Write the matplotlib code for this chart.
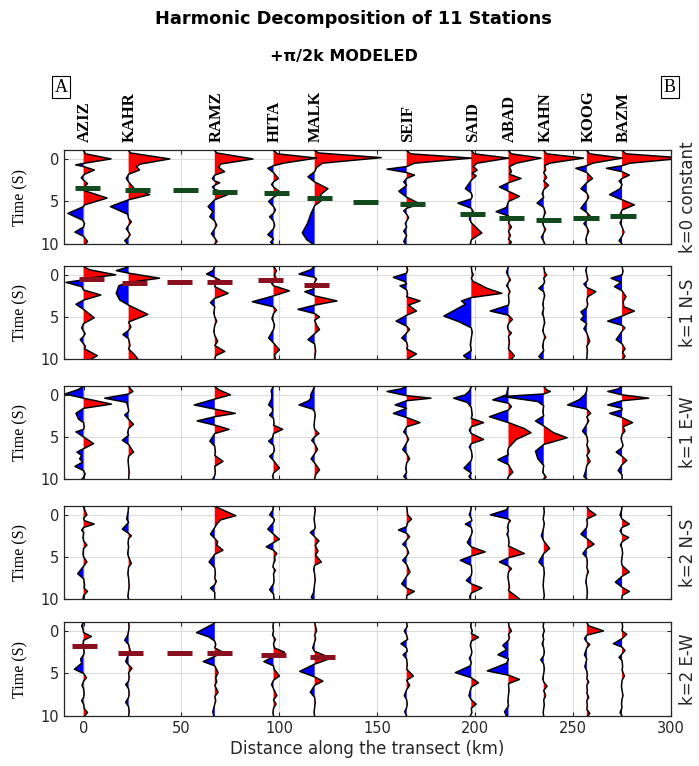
#!/usr/bin/env python3
"""
Harmonic decomposition wiggle plot (11 stations, +pi/2k modeled).
Saves out.png
"""

import numpy as np
import matplotlib.pyplot as plt
from matplotlib import transforms

# Stations along the transect (km)
stations = ["AZIZ", "KAHR", "RAMZ", "HITA", "MALK", "SEIF", "SAID", "ABAD", "KAHN", "KOOG", "BAZM"]
station_km = [0, 23, 67, 97, 118, 165, 198, 217, 235, 257, 275]

panel_labels = ["k=0 constant", "k=1 N-S", "k=1 E-W", "k=2 N-S", "k=2 E-W"]

# Each trace: (time s, amplitude offset in km) key points
k0_constant = [
    [(-1, 0), (-0.6, 1), (0, 14), (0.5, 0.5), (0.7, -4), (0.9, 0), (1.3, 5.5), (1.8, 0.5), (2.2, -1.2), (2.5, 0), (2.9, 2), (3.3, 0.3), (3.7, 0), (4.6, 12), (5.4, 0.5), (5.6, 0), (6.4, -8), (7.2, -0.5), (7.6, 0.5), (8.0, 0), (8.6, -4.4), (9.1, 0), (9.7, 2), (10, 1)],
    [(-1, 0), (-0.7, 1), (0, 21), (0.6, 6), (0.9, 4), (1.3, 5.6), (1.8, 0), (2.3, -1.2), (2.7, 0), (3.1, 1.5), (3.5, 3), (4.2, 10.7), (4.8, 0), (5.6, -9.3), (6.5, -0.5), (7.0, 0), (7.4, 1.4), (7.8, 0), (8.2, -1.2), (8.6, 0), (8.9, 0.8), (9.2, 0), (9.6, -2), (10, -0.5)],
    [(-1, 0), (-0.7, 1), (0, 19.5), (0.6, 3), (1.0, 2), (1.5, 5), (1.9, 0), (2.3, -1.3), (2.6, 0), (2.8, 2.5), (3.1, 0), (3.3, -1.2), (3.6, 0), (4.1, 7.6), (4.8, 0), (5.6, -3.4), (6.2, -1), (6.8, -2.5), (7.3, 0), (7.8, 1), (8.2, 0), (8.8, -1.7), (9.3, 0), (9.7, 1.2), (10, 0)],
    [(-1, 0), (-0.6, 2), (-0.1, 22), (0.5, 5), (0.8, 0), (1.1, -2.9), (1.6, 0), (2.3, 2.5), (2.7, 0), (3.0, -1), (3.3, 0), (4.0, 3.9), (4.5, 0), (5.0, -2.5), (5.6, 0), (6.0, 1), (6.4, 0), (6.8, -2), (7.3, 0), (7.8, 0.6), (8.2, 0), (8.9, -2.9), (9.4, 0), (9.8, -1.5), (10, -0.5)],
    [(-1, 0), (-0.7, 2), (-0.15, 34), (0.5, 4), (1.0, 1), (1.5, 0), (2.1, -3.4), (2.7, 0), (3.5, 6.8), (4.2, 3), (4.8, 4), (5.5, 0), (6.5, -2), (7.5, -3.5), (8.7, -6.3), (9.5, -4), (10, -1)],
    [(-1, 0), (-0.6, 2), (-0.1, 33), (0.5, 4), (0.9, 0), (1.2, -10), (1.6, 0), (1.9, 4), (2.3, 0), (2.7, -1.5), (3.1, 0), (3.8, -4), (4.5, 0), (5.3, 6.8), (5.8, 0), (6.1, -1.5), (6.5, 0), (6.9, 1), (7.3, 0), (7.6, -0.7), (8.0, 0), (8.5, -1.5), (9.0, 0), (9.7, -1.5), (10, -0.5)],
    [(-1, 0), (-0.6, 1.5), (-0.1, 19), (0.5, 3), (0.9, 1), (1.3, 3), (1.7, 0.5), (2.0, 2.5), (2.5, 0), (3.5, -3), (4.0, 0), (4.4, 0.5), (4.7, 0), (5.2, -6.8), (5.8, 0), (6.2, 1), (6.6, 0), (7.0, -1), (7.5, 0), (8.7, 5.4), (9.5, 0), (10, -0.5)],
    [(-1, 0), (-0.6, 1.5), (-0.1, 16.6), (0.5, 4), (0.9, 0.5), (1.5, 1.5), (1.8, 0.5), (2.3, 6.4), (2.8, 0), (3.3, -4.6), (3.8, 0), (4.4, 5.6), (5.0, 0), (5.7, -1), (6.2, -6.3), (6.7, 0), (7.1, 1), (7.5, 0), (8.0, 1.5), (8.5, 0), (9.0, 1), (9.4, 0), (9.8, 1.5), (10, 0.5)],
    [(-1, 0), (-0.6, 1.5), (-0.1, 20.3), (0.5, 3), (0.8, 0.5), (1.3, 1), (1.6, 0), (2.2, 1.5), (2.6, 0), (3.1, 2.5), (3.6, 0), (4.1, -0.8), (4.5, 0), (5.2, -3.4), (5.7, 0), (6.3, 0.8), (6.8, 0), (7.4, -0.8), (7.9, 0), (8.3, 1), (8.7, 0), (9.2, -1.2), (9.7, 0), (10, 0.5)],
    [(-1, 0), (-0.6, 1.5), (-0.1, 18), (0.5, 3), (0.8, 0), (1.1, -5.6), (1.6, 0), (2.3, 2.9), (2.8, 0), (3.5, -3), (4.0, 0), (4.5, 1), (4.9, 0), (5.8, -3), (6.3, 0), (6.8, 2), (7.2, 0), (7.6, -1.5), (8.0, 0), (8.5, 1), (9.0, 0), (9.5, -0.5), (10, 0)],
    [(-1, 0), (-0.6, 2), (-0.1, 32), (0.5, 4), (0.8, 0), (1.1, -8), (1.5, 0), (1.9, 3.7), (2.3, 0), (2.6, -1.5), (3.0, 0), (3.5, -1), (4.2, -6.4), (4.8, 0), (5.4, 6.3), (6.0, 0), (6.5, -1), (7.0, 0), (7.5, -1), (8.0, 0), (8.6, 1), (9.1, 0), (9.6, -1.5), (10, 0)],
]

k1_ns = [
    [(-1, 0), (-0.6, 3), (0, 16.4), (0.4, 2), (0.6, 0), (0.9, -9), (1.4, -1), (1.8, 0), (2.4, 8.8), (3.0, 0), (3.5, -3.9), (4.1, 0), (5.1, 5.4), (5.8, 0), (6.3, -1), (6.7, 0), (7.0, 0.8), (7.3, 0), (7.7, -1.7), (8.2, 0), (8.5, 1.0), (8.8, 0.5), (9.6, 7), (10, 4)],
    [(-1, 0), (-0.8, -2), (-0.5, -6.3), (-0.2, 0), (0.4, 15.8), (0.9, 0), (1.3, -5), (2.2, -6.3), (3.0, -4.5), (3.6, 0), (4.7, 9.8), (5.6, 0), (6.2, 1.2), (6.6, 0), (7.1, -2.9), (7.6, 0), (8.4, 0.7), (8.8, 0), (9.5, 3), (10, 4.7)],
    [(-1, 0), (-0.5, -1), (-0.1, -4.2), (0.3, 0), (0.6, 2.5), (1.0, 0.5), (1.4, 0), (2.2, 6.8), (2.8, 0), (3.3, -2.2), (3.8, 0), (4.5, -0.5), (5.0, 0), (5.5, 1), (6.0, 0), (6.7, -0.5), (7.2, 0), (7.9, 1.5), (8.4, 0), (9.1, 5.1), (9.6, 0.5), (10, 0)],
    [(-1, 0), (-0.5, 1.5), (0, 0.5), (0.3, 1.2), (0.7, 0), (1.0, -1), (1.3, 0), (1.9, 8.1), (2.5, 0), (3.2, -10.8), (3.8, 0), (4.2, 1.5), (4.6, 0), (5.2, -0.8), (5.6, 0), (6.0, 0.5), (6.5, 0), (7.5, -2.5), (8.1, 0), (8.9, 3), (9.5, 0.5), (10, 1)],
    [(-1, 0), (-0.6, -2), (-0.1, -8), (0.3, 0), (0.5, 1), (0.9, 0), (1.4, -1), (1.7, -0.5), (2.0, -5), (2.5, 0), (3.1, 11.4), (3.6, 0), (4.1, -8.5), (4.6, 0), (5.0, 2.5), (5.4, 0), (6.0, 1), (6.5, 2.5), (7.0, 0), (7.7, -3.4), (8.2, 0), (9.0, 0.5), (10, 0)],
    [(-1, 0), (-0.6, 0.5), (-0.2, 0), (0.3, -6.8), (0.8, -1), (1.1, 0), (1.3, -3.4), (1.8, 0), (2.3, 0.5), (2.6, 0), (3.1, 6.8), (3.6, 1), (4.3, 5), (4.8, 0), (5.5, -5.4), (6.1, 0), (6.5, 1.5), (6.9, 0), (7.5, -2.5), (8.0, 0), (8.5, 0.5), (8.8, 0), (9.4, 5), (10, 0.5)],
    [(-1, 0), (-0.4, 0.3), (0, 1), (0.4, 0), (0.8, 1), (1.0, 3), (1.6, 8), (2.2, 15.6), (2.7, 0), (3.1, -5), (3.5, -3), (4.9, -14), (5.6, -6), (6.3, 0), (6.8, 0.5), (7.5, 0), (8.3, -0.5), (9.0, 0), (9.6, -3.9), (10, -2)],
    [(-1, 0), (-0.3, -1), (0.2, 0), (0.6, 1), (0.9, 0), (1.3, -1), (1.6, 0), (2.0, 0.8), (2.4, 0), (3.2, 0.3), (3.6, 0), (4.3, -9.3), (4.8, 0), (5.3, 2), (5.8, 0), (6.2, -0.5), (6.6, 0), (6.9, 1.5), (7.3, 0), (8.0, 0.5), (8.8, 0), (9.6, 3), (10, 1.5)],
    [(-1, 0), (-0.3, 0.5), (0, 1.5), (0.4, 0), (0.8, 0.5), (1.1, 0), (1.6, -2.5), (2.0, 0), (2.5, 0.5), (2.9, 0), (3.5, -0.5), (4.0, 0), (4.6, -0.8), (5.0, 0), (5.7, 0.5), (6.1, 0), (6.6, -0.5), (7.0, 0), (7.4, 1), (7.8, 0), (8.5, -0.6), (9.0, 0), (9.7, -2.5), (10, -1)],
    [(-1, 0), (-0.5, -0.5), (0, 0), (0.6, 0.5), (0.8, 0), (1.1, -1.5), (1.5, 0), (2.0, 4.6), (2.6, 0.5), (3.0, 0), (3.5, 0.5), (3.9, 0), (4.4, -3), (4.9, -1.5), (5.3, -3), (5.8, 0), (6.4, -1.5), (6.9, 0), (7.9, 1.5), (8.5, 0), (9.0, 0.3), (10, 0)],
    [(-1, 0), (-0.4, 0.5), (0, 0), (0.4, -5.6), (0.9, -0.5), (1.4, -3.9), (1.9, 0), (2.6, 2), (3.2, 0.5), (3.8, 1), (4.3, 6.3), (4.9, 0), (5.5, -7.3), (6.0, 0), (6.3, 1.5), (6.7, 0), (7.7, -3), (8.2, 0), (8.8, 1.5), (9.2, 0.3), (9.7, 1.5), (10, 0.5)],
]

k1_ew = [
    [(-1, 0), (-0.6, -3), (-0.1, -9.5), (0.4, 0), (1.1, 14.2), (1.6, 0), (2.2, -3.9), (2.9, -2.5), (3.3, 0), (3.8, 0.3), (4.1, 0), (4.4, -3.9), (5.0, 0), (5.8, 5.1), (6.4, 0), (6.8, -3.4), (7.2, -1), (7.6, -2), (8.0, -0.5), (8.5, -4.4), (9.0, 0), (9.4, 0.8), (9.8, 0), (10, -0.8)],
    [(-1, 0), (-0.7, 1), (-0.4, 2.2), (-0.1, 0), (0.4, -12.2), (0.9, -1), (1.3, -0.5), (1.8, 0), (2.0, 0), (2.4, -2), (2.9, 0), (3.5, 2.5), (4.0, 0), (4.5, -0.5), (4.8, 0), (5.4, -3.2), (5.9, 0), (6.8, 2.5), (7.3, 0), (7.8, -0.3), (8.5, 0), (9.2, 0.3), (10, 0)],
    [(-1, 0), (-0.6, 2), (0, 8), (0.5, 0), (1.2, -10.5), (1.7, 0), (2.2, 10.5), (2.6, 0), (3.1, -9), (3.6, 0), (4.1, 7.3), (4.6, 0), (5.5, -2.5), (6.1, 0), (6.8, 0.3), (7.2, 0), (7.9, 4.2), (8.5, 0), (9.2, 0.3), (9.6, 0), (10, -1)],
    [(-1, 0), (-0.5, -1.2), (0, -0.8), (0.5, -1), (1.2, -2.5), (1.6, -0.5), (2.0, -0.5), (2.4, -2), (2.8, 0), (3.4, 0.3), (3.6, 0), (4.1, 4.7), (4.6, 0), (5.1, -0.5), (5.5, -2.5), (6.0, 0), (6.5, 0.5), (6.9, 0), (7.3, -2), (7.8, 0), (8.7, 3), (9.3, 0), (9.7, -0.5), (10, 0)],
    [(-1, 0), (-0.5, -1), (0, -2), (0.4, -2), (0.7, -3), (1.2, -8), (1.7, -1), (2.0, 0), (2.5, 0.3), (2.9, 0), (3.7, -0.3), (4.1, 0), (4.6, 2.2), (5.0, 0), (5.4, -1.5), (5.8, 0), (6.5, 1.5), (7.0, 0), (7.6, -1.8), (8.1, 0), (8.9, 2.5), (9.5, 0.5), (10, 0)],
    [(-1, 0), (-0.7, -3), (-0.4, -10), (0.1, 0), (0.4, 12.4), (0.7, 0), (1.2, -5.9), (1.6, 0), (2.2, -6.8), (2.7, 0), (3.3, 6.8), (3.8, 0), (4.4, -1.5), (4.8, 0), (5.3, 1), (5.7, 0), (6.5, -2), (7.0, 0), (7.6, 1.5), (8.1, 0), (8.8, -0.5), (9.2, 0), (9.7, -1.5), (10, 0)],
    [(-1, 0), (-0.5, -0.8), (0, -3), (0.4, -9), (0.9, -2), (1.5, 0), (2.4, 0.5), (2.8, 0), (3.3, 6.3), (3.8, 0), (4.2, -1), (4.6, 0), (5.3, 6.3), (5.8, 0), (6.2, -1), (6.6, 0), (7.3, 0.5), (7.8, 0), (8.7, -3.7), (9.3, 0), (9.7, -1.2), (10, 0)],
    [(-1, 0), (-0.6, -0.5), (0, -1), (0.6, -8), (1.0, 0), (1.4, 1.5), (1.8, 0), (2.6, -9.7), (3.3, 0), (4.0, 8), (4.5, 11.5), (5.3, 4), (6.3, 0), (6.8, -0.5), (7.1, 0), (7.7, -5.4), (8.3, 0), (9.2, 2.2), (9.7, 0), (10, -0.5)],
    [(-1, 0), (-0.6, 1.5), (-0.4, 3.4), (-0.1, 0), (0.2, -21), (0.8, -3), (1.3, 0), (2.0, -0.5), (2.5, 0), (3.1, -4.2), (3.7, 0), (4.5, 5), (5.1, 11.9), (5.9, 0), (6.7, -4.2), (7.6, -3), (8.4, 0), (9.2, -0.5), (9.8, 1.2), (10, 0)],
    [(-1, 0), (-0.5, 0), (0, -1), (0.6, -4), (1.2, -9.8), (1.7, 0), (2.2, 2), (2.6, 0), (3.1, 1), (3.5, 0), (4.3, -2.2), (4.9, 0), (5.5, 0.5), (6.0, 0), (6.7, 1.5), (7.2, 0), (7.9, 1.7), (8.4, 0), (9.0, -0.5), (9.7, -1.5), (10, 0)],
    [(-1, 0), (-0.7, -2), (-0.4, -7.3), (0.0, 0), (0.4, 13.6), (0.7, 0), (1.2, -7.3), (1.6, 0), (1.8, 0), (2.2, -6.4), (2.7, 0), (3.3, 5.4), (3.8, 0.5), (4.3, 1.5), (4.7, 0), (5.2, -0.5), (5.6, 0), (6.0, 0.5), (6.3, 0), (6.8, -3), (7.3, 0), (7.8, 2.4), (8.3, 0), (9.0, -2), (9.5, 0), (10, 0)],
]

k2_ns = [
    [(-1, 0), (-0.6, 0.5), (0, 1.7), (0.4, 0), (0.7, 0.5), (1.1, 5.4), (1.5, 0), (1.8, -1), (2.1, 0), (2.7, -0.3), (3.1, 0), (3.6, 1.7), (4.0, 0), (4.6, -0.3), (5.0, 0), (5.6, 1.7), (6.1, 0), (7.0, -3), (7.6, 0), (8.3, 0.5), (8.7, 0.3), (9.1, 2), (9.6, 0), (10, -0.3)],
    [(-1, 0), (-0.3, -0.3), (0.5, -1), (0.9, 0), (1.7, -3.2), (2.2, 0), (2.5, 1.4), (2.8, 0), (3.4, -0.3), (3.8, 0), (4.6, -0.5), (5.0, 0), (5.8, 1.4), (6.2, 0), (7.0, -0.4), (7.5, 0), (8.5, 0.3), (9.0, 0), (9.7, -0.4), (10, 0)],
    [(-1, 0), (-0.8, 2), (0.1, 10.7), (0.6, 3), (1.1, 1), (1.5, 0), (2.3, -2.2), (2.8, 0), (3.2, 1.5), (3.6, 1), (4.2, 4.2), (4.7, 0), (5.6, -2.9), (6.3, 0), (7.0, 0.3), (7.5, 0), (7.9, 0.8), (8.3, 0), (8.7, -2.2), (9.2, 0), (10, 0)],
    [(-1, 0), (-0.5, -0.5), (0, -2), (0.4, 0), (0.6, 0.5), (0.9, 0), (1.7, -2.9), (2.3, 0), (2.9, 3), (3.3, 0), (3.8, -3.7), (4.2, 0), (4.6, 1.7), (5.0, 0.5), (5.4, 0.8), (5.8, 0), (6.2, -0.3), (6.6, 1), (7.0, 0), (7.8, 0.3), (8.2, 0), (8.9, -2), (9.4, 0), (10, 0.3)],
    [(-1, 0), (-0.5, 0.3), (0, 0), (0.5, -0.3), (1.0, 0), (1.5, 0.3), (1.7, 0), (2.1, -2.2), (2.6, 0), (3.1, 2.2), (3.6, 0.3), (4.3, 1.7), (4.8, 0.5), (5.6, 3.4), (6.0, 0), (6.5, -0.5), (7.0, 0), (7.8, 0.3), (8.2, 0), (9.2, -0.5), (9.8, -1.7), (10, -1)],
    [(-1, 0), (-0.5, 0.3), (0, 0.5), (0.5, 2.5), (1.0, 0.3), (1.4, 0), (1.8, -4.2), (2.2, 0), (2.6, 1.5), (3.0, 0), (3.5, -2), (3.9, 0), (4.5, 1), (4.9, 0), (5.4, -2), (5.9, 0), (6.8, 1.7), (7.3, 0), (8.2, -2.5), (8.7, 0), (9.1, 3.9), (9.6, 0), (10, 0)],
    [(-1, 0), (-0.5, -0.3), (0, -1), (0.4, 0), (0.7, 0.3), (1.1, -3), (1.5, 0), (2.0, 0.5), (2.4, 0), (3.3, -2), (3.8, 0), (4.4, 7.1), (4.9, 0), (5.4, -5.6), (6.0, 0), (6.8, 0.3), (7.2, 0), (7.8, -2.5), (8.2, 0), (8.7, 5.4), (9.3, 0), (9.7, -0.8), (10, -0.5)],
    [(-1, 0), (-0.6, -1), (0, -9.2), (0.5, 0), (0.7, 1), (1.0, 0), (1.5, -0.5), (1.9, 0), (2.3, -0.8), (2.7, 0), (3.3, 0.3), (3.7, 0), (4.6, 8.1), (5.1, 0), (5.6, -4.6), (6.1, 0), (6.4, 1.5), (6.8, 0), (7.4, -0.3), (7.8, 0), (8.6, 0.5), (9.0, 0), (9.7, 4), (10, 5.6)],
    [(-1, 0), (-0.3, 0.3), (0.5, -0.3), (1.0, 0.3), (1.5, 0), (2.5, -1.2), (3.1, 0), (4.0, 3), (4.6, 0), (5.6, -2.5), (6.2, 0), (7.0, 0.3), (7.5, 0), (8.4, -0.3), (9.0, 0), (9.6, 0.3), (10, 0)],
    [(-1, 0), (-0.6, 1), (0, 4.6), (0.5, 0), (1.0, 0.3), (1.5, 0), (2.3, -3), (2.8, 0), (3.5, 3.7), (4.0, 0), (4.6, -2), (5.1, 0), (5.8, 0.3), (6.2, 0), (6.8, 0.8), (7.2, 0), (8.0, -0.5), (8.5, 0), (9.2, 0.3), (10, 0)],
    [(-1, 0), (-0.5, -0.3), (0, -1), (0.5, 0), (1.1, 3.7), (1.5, 0), (1.9, -1), (2.3, 0), (2.7, 3.4), (3.2, 0), (3.6, -0.8), (4.0, 0), (4.6, 0.3), (5.0, 0), (5.6, -0.3), (6.0, 0), (6.8, 3.7), (7.3, 0), (8.0, -3.4), (8.6, 0), (9.1, 3.7), (9.6, 0), (10, 0)],
]

k2_ew = [
    [(-1, 0), (-0.6, -1), (-0.2, -0.3), (0.2, 0), (0.65, 4), (1.1, 0), (1.5, -0.3), (2.0, 0), (2.5, 0.3), (2.8, 0), (3.3, -1.5), (3.8, -1), (4.5, -4.7), (5.0, 0), (5.5, 1.5), (5.9, 0), (6.4, -0.8), (6.8, 0), (7.4, 0.3), (7.8, 0), (8.2, -1), (8.6, 0), (9.1, 0.3), (9.6, 2), (10, 0.5)],
    [(-1, 0), (-0.5, 0.3), (0, 0), (0.5, -0.5), (1.1, -2), (1.6, 0), (2.3, 0.8), (2.7, 0), (3.6, -1.5), (4.0, 0), (4.4, 1.7), (4.9, 0), (5.5, 0.3), (5.9, 0), (6.3, -1.5), (6.8, 0), (7.4, 0.3), (7.8, 0), (8.4, -1.5), (8.9, 0), (9.5, 0.3), (10, 0)],
    [(-1, 0), (-0.8, -1), (0.2, -9.3), (0.7, -3), (1.2, 0), (1.6, 0.5), (2.0, 0), (2.5, 4.2), (3.0, 0), (3.6, -5.9), (4.1, 0), (4.9, 1.7), (5.5, 0.5), (6.0, 1), (6.4, 0), (7.2, 1.7), (7.7, 0), (8.2, 0.5), (8.6, 0), (9.5, -1), (10, -0.5)],
    [(-1, 0), (-0.5, -0.3), (0, 0), (0.5, -0.5), (1.0, 1), (1.5, 0), (2.0, 0.5), (2.5, 5.6), (3.0, 0), (3.6, -4.9), (4.1, 0), (4.5, 0.3), (5.3, 3), (5.8, 0), (6.3, -1), (6.8, 0), (7.6, 1.7), (8.1, 0), (8.6, 1.3), (9.1, 0), (9.6, -0.3), (10, 0)],
    [(-1, 0), (-0.5, 0.5), (0, 1), (0.5, 0), (0.9, 0.5), (1.3, 0), (2.0, -1), (2.4, 0), (3.2, 8.5), (3.9, 0), (4.75, -7.6), (5.4, 0), (5.9, 4.2), (6.4, 0), (7.2, -2.2), (7.8, 0), (8.4, 0.3), (9.0, 0), (9.6, -0.3), (10, 0)],
    [(-1, 0), (-0.5, 0.3), (0, -1.2), (0.5, 0), (1.0, 0.5), (1.5, -2.9), (2.0, 0), (2.4, 0.3), (2.8, -1.8), (3.3, 0), (4.0, 0.3), (4.5, 0), (5.3, 3.4), (5.8, 0), (6.4, 1.5), (6.9, 0), (7.6, -1.2), (8.1, 0), (8.6, 0.3), (9.0, 0), (9.5, -1), (10, 0)],
    [(-1, 0), (-0.5, -0.3), (0, 0.5), (0.3, 0), (0.75, 3.7), (1.2, 0), (1.7, -0.5), (2.1, 0), (2.5, 0.3), (2.8, 0), (3.2, -1), (3.7, 0), (4.1, -0.5), (4.9, -8.1), (5.5, 0), (6.1, 3.7), (6.6, 0), (7.6, -1.2), (8.1, 0), (8.6, 2.5), (9.1, 0), (9.6, 0.3), (10, -0.5)],
    [(-1, 0), (-0.5, 0.3), (0, 1.5), (0.4, 0), (0.8, 0.5), (1.1, 0), (1.7, -2.9), (2.2, -1), (2.8, -5.4), (3.3, 0), (3.8, -1), (4.7, -10.8), (5.2, 0), (5.7, 5.6), (6.2, 0), (7.0, 0.3), (7.5, 0), (8.3, -0.3), (8.8, 0), (9.5, -2), (10, -1)],
    [(-1, 0), (-0.5, -0.3), (0, 0.3), (0.5, -0.5), (1.0, 0), (1.5, -0.8), (2.0, 0), (2.5, 0.3), (2.9, 0), (3.4, -1.5), (3.9, 0), (4.5, 0.3), (5.0, 0), (5.6, -0.5), (6.0, 0), (6.5, 1.7), (7.0, 0), (7.6, 1), (8.1, 0), (8.7, 0.3), (9.1, 0), (9.6, -0.3), (10, 0)],
    [(-1, 0), (-0.6, 1), (0, 8.5), (0.5, 0), (0.9, -1.2), (1.3, 0), (1.6, 1.5), (2.0, 0), (2.8, -1.2), (3.3, 0), (4.2, -1), (4.7, 0), (5.2, 0.3), (5.6, 0), (6.0, 1), (6.4, 0), (7.0, 0.3), (7.3, 0), (7.8, 1), (8.2, 0), (8.8, 0.3), (9.2, 0), (9.7, 1.5), (10, 0.5)],
    [(-1, 0), (-0.5, 0.3), (0, 0), (0.4, 2.4), (0.9, 0), (1.5, -4.4), (1.9, 0), (2.3, 1.5), (2.7, 0), (3.1, -1.5), (3.5, 0), (4.2, 0.3), (4.6, 0), (5.3, 1.2), (5.8, 0), (6.5, -0.3), (7.0, 0), (7.6, 0.5), (8.0, 0), (8.6, -0.3), (9.0, 0), (9.6, -1), (10, 0)],
]

# Marked phase times (dashes): centre km and time
k0_dash_km = [2, 27.5, 52, 72, 98.5, 120.5, 144, 168, 198.5, 218.5, 237.5, 256.5, 275.5]
k0_dash_t = [3.4, 3.7, 3.7, 3.85, 4.0, 4.6, 5.06, 5.3, 6.5, 7.0, 7.15, 7.0, 6.7]
k1ns_dash_km = [4, 26, 49, 69.5, 95.5, 119]
k1ns_dash_t = [0.5, 1.0, 0.8, 0.9, 0.67, 1.2]
k2ew_dash_km = [0.5, 24, 49, 69.5, 97, 122]
k2ew_dash_t = [1.8, 2.6, 2.6, 2.6, 2.8, 3.05]

panels = [k0_constant, k1_ns, k1_ew, k2_ns, k2_ew]
dashes = {
    0: (k0_dash_km, k0_dash_t, "#124a1e"),
    1: (k1ns_dash_km, k1ns_dash_t, "#8a1020"),
    4: (k2ew_dash_km, k2ew_dash_t, "#8a1020"),
}

W, H = 699, 766
fig = plt.figure(figsize=(W / 100, H / 100), dpi=100)

# panel pixel extents (top, bottom)
tops = [150, 266, 386, 506, 622]
bots = [244, 359, 479, 599, 716]
left_px, right_px = 64, 671
TXT = "#262626"


def draw_trace(ax, x0, pts):
    t = np.array([p[0] for p in pts])
    a = np.array([p[1] for p in pts])
    ax.fill_betweenx(t, x0, x0 + a, where=a >= 0, interpolate=True,
                     color="#ff0000", lw=0, zorder=2)
    ax.fill_betweenx(t, x0, x0 + a, where=a <= 0, interpolate=True,
                     color="#0000ff", lw=0, zorder=2)
    ax.plot(x0 + a, t, color="black", lw=1.1, zorder=3)


axes = []
for i, traces in enumerate(panels):
    ax = fig.add_axes([left_px / W, 1 - bots[i] / H,
                       (right_px - left_px) / W, (bots[i] - tops[i]) / H])
    axes.append(ax)
    ax.set_xlim(-10, 300)
    ax.set_ylim(10, -1.05)
    ax.set_xticks([0, 50, 100, 150, 200, 250, 300])
    ax.set_yticks([0, 5, 10])
    ax.grid(True, color="#dcdcdc", lw=0.8, zorder=0)
    ax.set_axisbelow(True)
    ax.tick_params(direction="in", top=True, right=True, length=3,
                   colors=TXT, labelsize=10.5, width=0.8)
    if i < 4:
        ax.tick_params(labelbottom=False)
    for s in ax.spines.values():
        s.set_color(TXT)
        s.set_linewidth(0.9)

    for x0, pts in zip(station_km, traces):
        draw_trace(ax, x0, pts)

    if i in dashes:
        dk, dt, col = dashes[i]
        for xc, tc in zip(dk, dt):
            ax.plot([xc - 6.5, xc + 6.5], [tc, tc], color=col, lw=3.6,
                    solid_capstyle="butt", zorder=4)

    ax.set_ylabel("Time (S)", family="Liberation Serif", fontsize=11.5, color="black")
    ax.yaxis.set_label_coords(-0.058, 0.5)
    ax.text(1.028, 0.5, panel_labels[i], transform=ax.transAxes, rotation=90,
            ha="center", va="center", fontsize=12, color=TXT)

axes[-1].set_xlabel("Distance along the transect (km)", fontsize=12, color=TXT, labelpad=3)

# station names above the first panel
trans = transforms.blended_transform_factory(axes[0].transData, axes[0].transAxes)
for name, km in zip(stations, station_km):
    axes[0].text(km + 0.8, 1.085, name, transform=trans, rotation=90, ha="center",
                 va="bottom", family="Liberation Serif", fontweight="bold",
                 fontsize=12, color="black")

fig.text(0.505, 1 - 19 / H, "Harmonic Decomposition of 11 Stations",
         ha="center", va="center", fontsize=12.8, fontweight="bold")
fig.text(0.492, 1 - 56 / H, "+\u03c0/2k MODELED",
         ha="center", va="center", fontsize=11.5, fontweight="bold")

box = dict(boxstyle="square,pad=0.15", fc="white", ec="black", lw=0.8)
fig.text(61 / W, 1 - 87 / H, "A", ha="center", va="center",
         family="Liberation Serif", fontsize=13, bbox=box)
fig.text(670 / W, 1 - 87 / H, "B", ha="center", va="center",
         family="Liberation Serif", fontsize=13, bbox=box)

fig.savefig("out.png", dpi=100)
plt.close(fig)
